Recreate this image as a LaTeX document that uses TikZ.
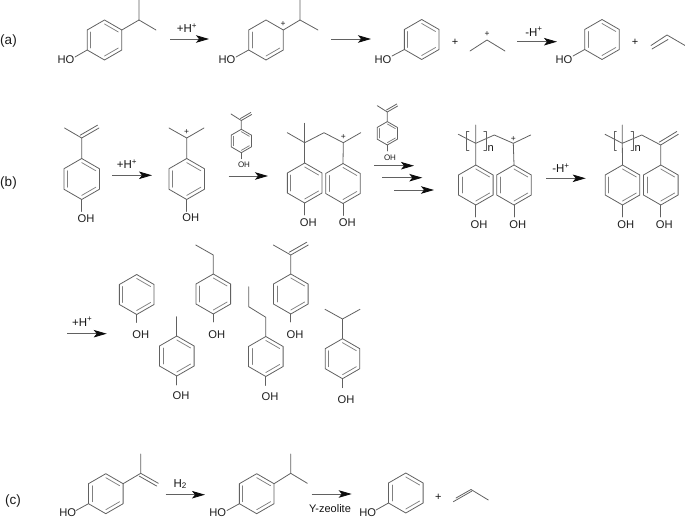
\documentclass[tikz,border=0pt]{standalone}
\usepackage{fontspec}
\setmainfont{Liberation Sans}
\usetikzlibrary{arrows.meta,calc}
\tikzset{
  bond/.style={draw=black!62,line width=0.8pt,line cap=round,line join=round},
  inner bond/.style={draw=black!50,line width=0.75pt,line cap=round},
  rxn/.style={draw=black!62,line width=0.85pt,-{Stealth[length=13pt,width=7.5pt,inset=3pt,black!95]}},
  atom/.style={inner sep=0pt,text=black!88,font=\fontsize{11.2}{12}\selectfont},
  smallatom/.style={inner sep=0pt,text=black!88,font=\fontsize{8}{9}\selectfont},
  lab/.style={inner sep=0pt,text=black!92,font=\fontsize{11.5}{12}\selectfont},
  tag/.style={inner sep=0pt,text=black!90,font=\fontsize{13.5}{15}\selectfont},
  chg/.style={inner sep=0pt,text=black!90,font=\fontsize{8.5}{9}\selectfont},
  plus/.style={inner sep=0pt,text=black!92,font=\fontsize{11}{11}\selectfont},
}
% hexagon outline with named vertices
\newcommand{\HexBase}[4]{%
  \pgfmathsetmacro{\hw}{0.866*#4}\pgfmathsetmacro{\hh}{0.5*#4}%
  \coordinate (#1-c) at (#2,#3);
  \coordinate (#1-t) at ($(#1-c)+(0,-#4)$);
  \coordinate (#1-b) at ($(#1-c)+(0,#4)$);
  \coordinate (#1-ur) at ($(#1-c)+(\hw,-\hh)$);
  \coordinate (#1-lr) at ($(#1-c)+(\hw,\hh)$);
  \coordinate (#1-ul) at ($(#1-c)+(-\hw,-\hh)$);
  \coordinate (#1-ll) at ($(#1-c)+(-\hw,\hh)$);
  \draw[bond] (#1-t)--(#1-ur)--(#1-lr)--(#1-b)--(#1-ll)--(#1-ul)--cycle;
}
\newcommand{\Inner}[3]{\draw[inner bond] ($(#1-c)!0.8!(#1-#2)$)--($(#1-c)!0.8!(#1-#3)$);}
% benzene ring: three inner lines
\newcommand{\Hex}[4]{\HexBase{#1}{#2}{#3}{#4}\Inner{#1}{ul}{ll}\Inner{#1}{t}{ur}\Inner{#1}{lr}{b}}
% parallel line of a double bond, shifted
\newcommand{\DBU}[4]{\draw[bond] ([shift={(-1.5,-2.8)}]#1,#2)--([shift={(-1.5,-2.8)}]#3,#4);}
\newcommand{\DBD}[4]{\draw[bond] ([shift={(-1.5,2.8)}]#1,#2)--([shift={(-1.5,2.8)}]#3,#4);}
\newcommand{\Rxn}[4]{\coordinate (#1-s) at (#2,#4);\coordinate (#1-e) at (#3,#4);\draw[rxn] (#1-s)--(#1-e);}
\newcommand{\HP}{+H\textsuperscript{+}}
\newcommand{\HM}{-H\textsuperscript{+}}
\begin{document}
\begin{tikzpicture}[x=1pt,y=-1pt]
\useasboundingbox (0,0) rectangle (685,518);
% ---------- (a)
\node[tag] (ta) at (8.5,41) {(a)};
\Hex{a1}{104.5}{40}{20}
\draw[bond] (a1-ll)--(75,57);
\node[atom] (a1oh) at (66,60) {HO};
\draw[bond] (a1-ur)--(139,20)--(139,0);
\draw[bond] (139,20)--(156,30);
\Rxn{ar1}{170}{209}{39}
\node[lab] (al1) at (187,28) {\HP};
\HexBase{a2}{266}{40}{20}\Inner{a2}{ul}{ll}\Inner{a2}{lr}{b}
\draw[bond] (a2-ll)--(236,57);
\node[atom] (a2oh) at (227,60) {HO};
\draw[bond] (a2-ur)--(300,20)--(300,0);
\draw[bond] (300,20)--(318,30);
\node[chg] (a2p) at (283,24.5) {+};
\Rxn{ar2}{331}{371}{39}
\Hex{a3}{421.7}{39.5}{20}
\draw[bond] (a3-ll)--(392,56);
\node[atom] (a3oh) at (383,59.5) {HO};
\node[plus] (ap1) at (455,42.5) {+};
\draw[bond] (470,51)--(487,40)--(505,51);
\node[chg] (ap2) at (487,34.5) {+};
\Rxn{ar3}{517}{557}{41.7}
\node[lab] (al3) at (534,31.7) {\HM};
\Hex{a4}{602}{39.5}{20}
\draw[bond] (a4-ll)--(573,56);
\node[atom] (a4oh) at (564,59.5) {HO};
\node[plus] (ap3) at (635,42.7) {+};
\draw[bond] (651,45.5)--(667,35)--(685,45.5);
\draw[bond] (652,49)--(668,39.5);
% ---------- (b)
\node[tag] (tb) at (8.5,183) {(b)};
\Hex{b1}{81.7}{179}{20.5}
\draw[bond] (b1-b)--++(0,12);
\node[atom] (b1oh) at (86,218.3) {OH};
\draw[bond] (b1-t)--(81.7,138)--(64.5,128);
\draw[bond] (81.7,138)--(99,128);
\DBU{81.7}{138}{99}{128}
\Rxn{br1}{112}{152}{175.3}
\node[lab] (bl1) at (127,164) {\HP};
\Hex{b2}{186.7}{179}{20.5}
\draw[bond] (b2-b)--++(0,12);
\node[atom] (b2oh) at (190.7,217.5) {OH};
\draw[bond] (b2-t)--(186.7,138)--(169,128);
\draw[bond] (186.7,138)--(204,128);
\node[chg] (b2p) at (186.7,132) {+};
\Rxn{br2}{228.7}{268}{176}
% small monomer 1
\Hex{s1}{241.3}{141}{11.7}
\draw[bond] (s1-b)--++(0,6);
\node[smallatom] (s1oh) at (244,165) {OH};
\draw[bond] (s1-t)--(241.3,120.5)--(231,114);
\draw[bond] (241.3,120.5)--(251.7,114.5);
\draw[bond] (240.5,118.5)--(250.8,112.5);
% dimer
\Hex{b3}{304.7}{183}{20}
\Hex{b4}{343}{183.5}{20}
\draw[bond] (b3-t)--(304.7,142.7)--(304.7,123.3);
\draw[bond] (287.3,132.7)--(304.7,142.7)--(324,132.7)--(343.3,142.7)--(360.7,132.7);
\draw[bond] (343.3,142.7)--(b4-t);
\node[chg] (b4p) at (343.3,136.7) {+};
\draw[bond] (b3-b)--++(0,12);
\draw[bond] (b4-b)--++(0,12);
\node[atom] (b3oh) at (308.3,222.7) {OH};
\node[atom] (b4oh) at (347.3,222.7) {OH};
% small monomer 2
\Hex{s2}{387.3}{133.3}{11.7}
\draw[bond] (s2-b)--++(0,6);
\node[smallatom] (s2oh) at (390,157.3) {OH};
\draw[bond] (s2-t)--(387.3,112)--(377.3,105.7);
\draw[bond] (387.3,112)--(397.7,106);
\draw[bond] (386.5,110)--(396.8,104);
\Rxn{br3}{374.3}{414}{165.7}
\Rxn{br4}{382.3}{422.3}{177.7}
\Rxn{br5}{394}{434}{190}
% polymer cation
\Hex{b5}{475.8}{185}{20}
\Hex{b6}{514}{185}{20}
\draw[bond] (b5-t)--(475.7,143.3)--(475.7,125);
\draw[bond] (458.3,134.3)--(475.7,143.3)--(494.3,135)--(513.3,143.3)--(530.7,135);
\draw[bond] (513.3,143.3)--(b6-t);
\draw[bond] (469,131.7)--(466.7,131.7)--(466.7,150.7)--(469,150.7);
\draw[bond] (483.7,131.7)--(486,131.7)--(486,150.7)--(483.7,150.7);
\node[atom] (b5n) at (490.7,148.3) {n};
\node[chg] (b6p) at (513.3,139.5) {+};
\draw[bond] (b5-b)--++(0,12);
\draw[bond] (b6-b)--++(0,12);
\node[atom] (b5oh) at (479,225) {OH};
\node[atom] (b6oh) at (517.7,225) {OH};
\Rxn{br6}{546}{585.7}{178.3}
\node[lab] (bl6) at (561,168.3) {\HM};
% polymer
\Hex{b7}{622.5}{185}{20}
\Hex{b8}{660.8}{185}{20}
\draw[bond] (b7-t)--(622.3,143.3)--(622.3,125);
\draw[bond] (605,134.3)--(622.3,143.3)--(641.7,135)--(660.7,145)--(678.3,134.3);
\DBU{660.7}{145}{678.3}{134.3}
\draw[bond] (660.7,145)--(b8-t);
\draw[bond] (616.3,131.7)--(614,131.7)--(614,150.7)--(616.3,150.7);
\draw[bond] (631,131.7)--(633.3,131.7)--(633.3,150.7)--(631,150.7);
\node[atom] (b7n) at (637.7,148.3) {n};
\draw[bond] (b7-b)--++(0,12);
\draw[bond] (b8-b)--++(0,12);
\node[atom] (b7oh) at (625.7,225) {OH};
\node[atom] (b8oh) at (664.3,225) {OH};
% ---------- products row
\Rxn{pr}{67.3}{106.7}{333.7}
\node[lab] (pl) at (82.3,321.7) {\HP};
\Hex{p1}{136.7}{294.5}{20}
\draw[bond] (p1-b)--++(0,8);
\node[atom] (p1oh) at (140.7,335) {OH};
\Hex{p2}{213.3}{294}{20}
\draw[bond] (p2-t)--(213.3,255)--(195.7,245);
\draw[bond] (p2-b)--++(0,8);
\node[atom] (p2oh) at (216.7,335) {OH};
\Hex{p3}{176.8}{356}{20}
\draw[bond] (p3-t)--(176.8,316.7);
\draw[bond] (p3-b)--++(0,9);
\node[atom] (p3oh) at (181,396) {OH};
\Hex{p4}{265.8}{356.5}{20}
\draw[bond] (p4-t)--(265.8,317.3)--(248.7,306.7)--(248.7,286.7);
\draw[bond] (p4-b)--++(0,9);
\node[atom] (p4oh) at (270,396.7) {OH};
\Hex{p5}{290.8}{294}{20}
\draw[bond] (p5-t)--(290.8,255)--(273.3,245);
\draw[bond] (290.8,255)--(308.3,245);
\DBU{290.8}{255}{308.3}{245}
\draw[bond] (p5-b)--++(0,8);
\node[atom] (p5oh) at (295,335) {OH};
\Hex{p6}{342.5}{358.7}{20}
\draw[bond] (p6-t)--(342.5,319)--(325,309.3);
\draw[bond] (342.5,319)--(360,309.3);
\draw[bond] (p6-b)--++(0,9);
\node[atom] (p6oh) at (346,399.3) {OH};
% ---------- (c)
\node[tag] (tc) at (13,501) {(c)};
\Hex{c1}{105.8}{493.7}{20}
\draw[bond] (c1-ll)--(76,510.5);
\node[atom] (c1oh) at (67.7,512.6) {HO};
\draw[bond] (c1-ur)--(140.7,473.3)--(140.7,454);
\draw[bond] (140.7,473.3)--(158.3,483.3);
\DBD{140.7}{473.3}{158.3}{483.3}
\Rxn{cr1}{165.7}{205}{494.7}
\node[lab] (cl1) at (180.3,484) {H\textsubscript{2}};
\Hex{c2}{256.7}{493.7}{20}
\draw[bond] (c2-ll)--(227,510.5);
\node[atom] (c2oh) at (217.7,512.6) {HO};
\draw[bond] (c2-ur)--(290.7,473.3)--(290.7,454);
\draw[bond] (290.7,473.3)--(307.3,483.3);
\Rxn{cr2}{311.7}{351.7}{494}
\node[lab] (cl2) [font=\fontsize{11}{12}\selectfont] at (330,508.3) {Y-zeolite};
\Hex{c3}{405.8}{493}{20}
\draw[bond] (c3-ll)--(376,510);
\node[atom] (c3oh) at (367.7,512.6) {HO};
\node[plus] (cp) at (438.3,497.3) {+};
\draw[bond] (456,498)--(471,489.5)--(488.3,500);
\draw[bond] (453.3,501.7)--(472,491) ;
\end{tikzpicture}
\end{document}
